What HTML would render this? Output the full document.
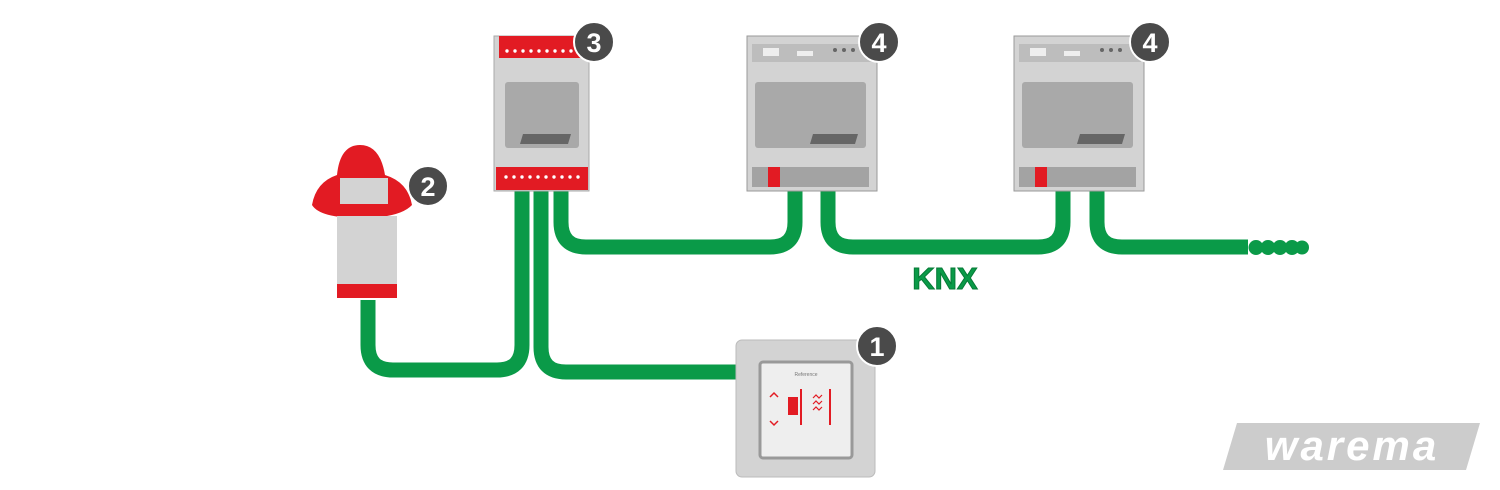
<!DOCTYPE html>
<html><head><meta charset="utf-8"><style>
html,body{margin:0;padding:0;background:#fff;width:1500px;height:490px;overflow:hidden}
</style></head><body>
<svg width="1500" height="490" viewBox="0 0 1500 490" xmlns="http://www.w3.org/2000/svg">
<g fill="none" stroke="#0a9a48" stroke-width="15" stroke-linecap="butt">
  <path d="M368 300 V345 Q368 370 393 370 H497 Q522 370 522 345 V190"/>
  <path d="M541 190 V347 Q541 372 566 372 H738"/>
  <path d="M561 190 V222 Q561 247 586 247 H770 Q795 247 795 222 V190"/>
  <path d="M828 190 V222 Q828 247 853 247 H1038 Q1063 247 1063 222 V190"/>
  <path d="M1097 190 V222 Q1097 247 1122 247 H1248"/>
</g>
<g fill="#0a9a48">
  <circle cx="1256" cy="247.5" r="7.5"/><circle cx="1268" cy="247.5" r="7.5"/><circle cx="1280" cy="247.5" r="7.5"/><circle cx="1292" cy="247.5" r="7.5"/><circle cx="1302" cy="247.5" r="7"/>
</g>
<text x="945" y="289" text-anchor="middle" font-family="Liberation Sans, sans-serif" font-weight="bold" font-size="31" fill="#0a9a48" stroke="#067a36" stroke-width="1">KNX</text>

<!-- device 3 -->
<rect x="494" y="36" width="95" height="155" fill="#d3d3d3" stroke="#aaa"/>
<rect x="499" y="36" width="85" height="22" fill="#e21b23"/>
<rect x="505" y="82" width="74" height="66" rx="3" fill="#a9a9a9"/>
<polygon points="523,134 571,134 568,144 520,144" fill="#666"/>
<rect x="496" y="167" width="92" height="23" fill="#e21b23"/>
<g fill="#fff">
<circle cx="507" cy="51" r="1.7"/><circle cx="515" cy="51" r="1.7"/><circle cx="523" cy="51" r="1.7"/><circle cx="531" cy="51" r="1.7"/><circle cx="539" cy="51" r="1.7"/><circle cx="547" cy="51" r="1.7"/><circle cx="555" cy="51" r="1.7"/><circle cx="563" cy="51" r="1.7"/><circle cx="571" cy="51" r="1.7"/>
<circle cx="506" cy="177" r="1.7"/><circle cx="514" cy="177" r="1.7"/><circle cx="522" cy="177" r="1.7"/><circle cx="530" cy="177" r="1.7"/><circle cx="538" cy="177" r="1.7"/><circle cx="546" cy="177" r="1.7"/><circle cx="554" cy="177" r="1.7"/><circle cx="562" cy="177" r="1.7"/><circle cx="570" cy="177" r="1.7"/><circle cx="578" cy="177" r="1.7"/>
</g>

<!-- device 4 template -->
<g id="d4">
<rect x="747" y="36" width="130" height="155" fill="#d3d3d3" stroke="#999"/>
<rect x="752" y="44" width="122" height="18" fill="#bdbdbd"/>
<rect x="763" y="48" width="16" height="8" fill="#eee"/>
<rect x="797" y="51" width="16" height="5" fill="#eee"/>
<circle cx="835" cy="50" r="2" fill="#666"/><circle cx="844" cy="50" r="2" fill="#666"/><circle cx="853" cy="50" r="2" fill="#666"/>
<rect x="755" y="82" width="111" height="66" rx="3" fill="#a9a9a9"/>
<polygon points="813,134 858,134 855,144 810,144" fill="#666"/>
<rect x="752" y="167" width="117" height="20" fill="#a3a3a3"/>
<rect x="768" y="167" width="12" height="20" fill="#e21b23"/>
</g>
<use href="#d4" transform="translate(267 0)"/>

<!-- device 2 sensor -->
<path d="M337 175 Q340 145 360 145 Q380 145 385 175 Q408 182 412 205 Q400 218 360 218 Q320 218 312 205 Q316 182 337 175 Z" fill="#e21b23"/>
<rect x="340" y="178" width="48" height="26" fill="#d3d3d3"/>
<rect x="337" y="216" width="60" height="70" fill="#d3d3d3"/>
<rect x="337" y="284" width="60" height="14" fill="#e21b23"/>

<!-- device 1 -->
<rect x="736" y="340" width="139" height="137" rx="6" fill="#d3d3d3" stroke="#bbb"/>
<rect x="760" y="362" width="92" height="96" rx="3" fill="#eee" stroke="#999" stroke-width="3"/>
<text x="806" y="376" text-anchor="middle" font-family="Liberation Sans, sans-serif" font-size="5" fill="#777">Reference</text>
<path d="M770 397 l4 -4 l4 4 M770 421 l4 4 l4 -4" stroke="#e21b23" fill="none" stroke-width="1.5"/>
<rect x="788" y="397" width="10" height="18" fill="#e21b23"/>
<rect x="800" y="389" width="2" height="36" fill="#e21b23"/>
<path d="M813 398 l3 -3 l3 3 l3 -3 M813 404 l3 -3 l3 3 l3 -3 M813 410 l3 -3 l3 3 l3 -3" stroke="#e21b23" fill="none" stroke-width="1.2"/>
<rect x="829" y="389" width="2" height="36" fill="#e21b23"/>

<!-- badges -->
<g font-family="Liberation Sans, sans-serif" font-weight="bold" font-size="27" fill="#fff" text-anchor="middle">
<circle cx="594" cy="42" r="20" fill="#4a4a4a" stroke="#fff" stroke-width="2"/><text x="594" y="52">3</text>
<circle cx="879" cy="42" r="20" fill="#4a4a4a" stroke="#fff" stroke-width="2"/><text x="879" y="52">4</text>
<circle cx="1150" cy="42" r="20" fill="#4a4a4a" stroke="#fff" stroke-width="2"/><text x="1150" y="52">4</text>
<circle cx="428" cy="186" r="20" fill="#4a4a4a" stroke="#fff" stroke-width="2"/><text x="428" y="196">2</text>
<circle cx="877" cy="346" r="20" fill="#4a4a4a" stroke="#fff" stroke-width="2"/><text x="877" y="356">1</text>
</g>

<!-- logo -->
<polygon points="1237,423 1480,423 1466,470 1223,470" fill="#cccccc"/>
<text x="1352" y="460" text-anchor="middle" font-family="Liberation Sans, sans-serif" font-weight="bold" font-style="italic" font-size="42" letter-spacing="3" fill="#fff">warema</text>
</svg>
</body></html>
